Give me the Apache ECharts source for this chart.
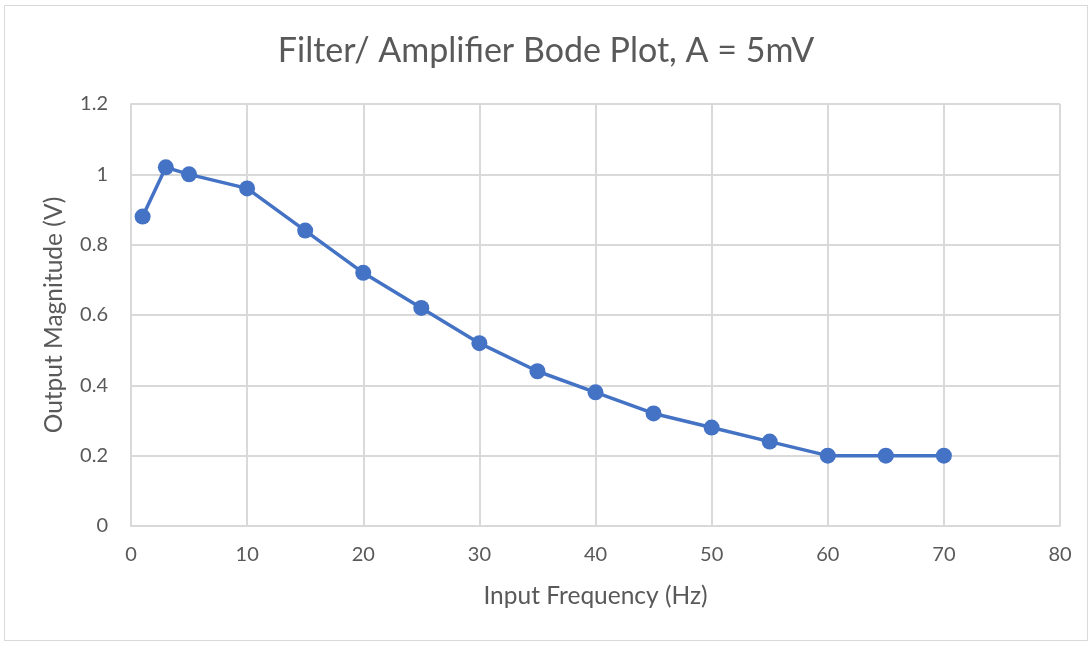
<!DOCTYPE html>
<html><head><meta charset="utf-8">
<script src="https://cdn.jsdelivr.net/npm/echarts@6/dist/echarts.min.js"></script>
<style>html,body{margin:0;padding:0;background:#fff}#c{width:1092px;height:645px}
#frame{position:absolute;left:4px;top:5px;width:1084px;height:636px;border:1px solid #d9d9d9;box-sizing:border-box;pointer-events:none}</style>
</head><body><div id="c"></div><div id="frame"></div>
<script>
const frequency = [1, 3, 5, 10, 15, 20, 25, 30, 35, 40, 45, 50, 55, 60, 65, 70];
const magnitude = [0.88, 1.02, 1.0, 0.96, 0.84, 0.72, 0.62, 0.52, 0.44, 0.38, 0.32, 0.28, 0.24, 0.2, 0.2, 0.2];
const titleText = 'Filter/ Amplifier Bode Plot, A = 5mV';
const xName = 'Input Frequency (Hz)';
const yName = 'Output Magnitude (V)';

const font = 'Lato, "Open Sans", sans-serif';
const chart = echarts.init(document.getElementById('c'));
chart.setOption({
  animation: false,
  title: {text: titleText, left: 'center', top: 29, textStyle: {fontFamily: font, fontSize: 34, fontWeight: 'normal', color: '#595959'}},
  grid: {left: 131, right: 32, top: 104, bottom: 119},
  xAxis: {
    type: 'value', min: 0, max: 80, interval: 10,
    name: xName, nameLocation: 'middle', nameGap: 58,
    nameTextStyle: {fontFamily: font, fontSize: 24.5, color: '#595959'},
    axisLine: {show: true, lineStyle: {color: '#d9d9d9', width: 2}},
    axisTick: {show: false},
    axisLabel: {fontFamily: font, fontSize: 20, color: '#595959', margin: 19},
    splitLine: {show: true, lineStyle: {color: '#d9d9d9', width: 2}}
  },
  yAxis: {
    type: 'value', min: 0, max: 1.2, interval: 0.2,
    name: yName, nameLocation: 'middle', nameGap: 64, nameRotate: 90,
    nameTextStyle: {fontFamily: font, fontSize: 24.5, color: '#595959'},
    axisLine: {show: true, lineStyle: {color: '#d9d9d9', width: 2}},
    axisTick: {show: false},
    axisLabel: {fontFamily: font, fontSize: 20, color: '#595959', margin: 23,
      formatter: v => String(Math.round(v * 10) / 10)},
    splitLine: {show: true, lineStyle: {color: '#d9d9d9', width: 2}}
  },
  series: [{
    type: 'line',
    data: frequency.map((f, i) => [f, magnitude[i]]),
    symbol: 'circle', symbolSize: 16,
    lineStyle: {color: '#4472c4', width: 3.5},
    itemStyle: {color: '#4472c4'}
  }]
});
</script></body></html>
